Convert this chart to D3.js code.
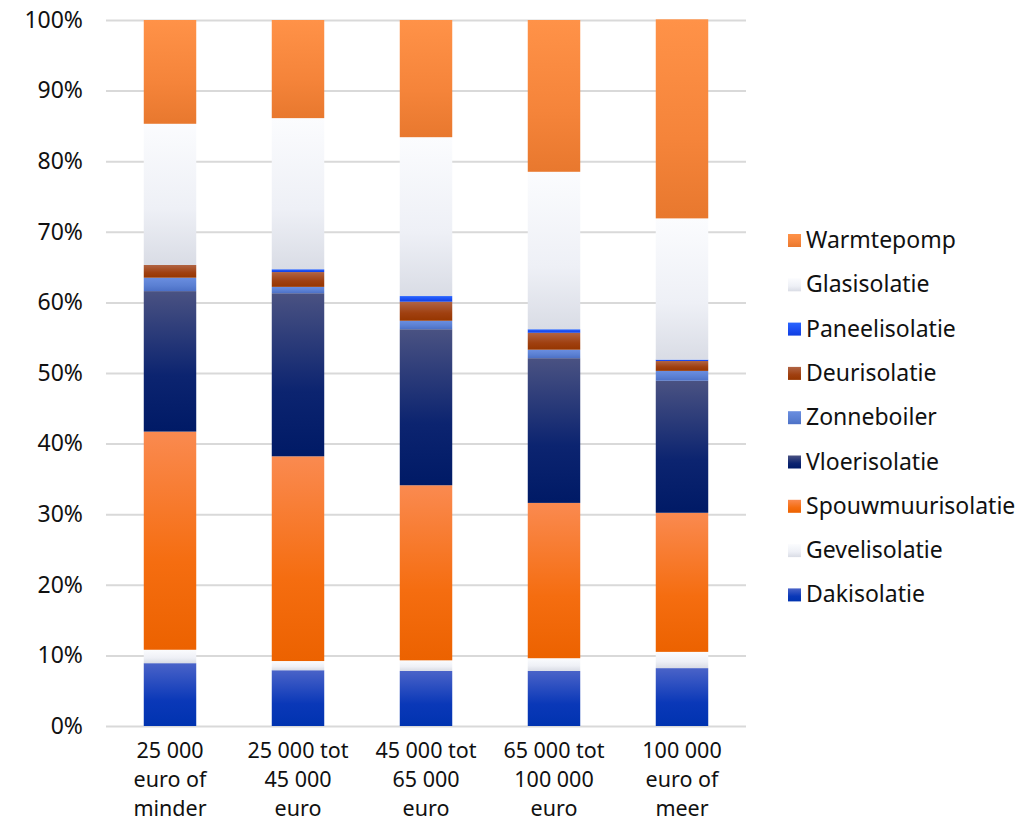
<!DOCTYPE html>
<html><head><meta charset="utf-8">
<script src="https://cdn.jsdelivr.net/npm/d3@7"></script>
<style>body{margin:0;background:#fff;} svg{display:block;font-family:"Noto Sans",sans-serif;}</style>
</head><body>
<svg id="c" width="1036" height="823"></svg>
<script>
const categories = [["25 000","euro of","minder"],["25 000 tot","45 000","euro"],["45 000 tot","65 000","euro"],["65 000 tot","100 000","euro"],["100 000","euro of","meer"]];
const seriesNames = ["Dakisolatie","Gevelisolatie","Spouwmuurisolatie","Vloerisolatie","Zonneboiler","Deurisolatie","Paneelisolatie","Glasisolatie","Warmtepomp"];
const dakisolatie       = [8.9, 7.9, 7.8, 7.8, 8.2];
const gevelisolatie     = [1.9, 1.3, 1.5, 1.8, 2.3];
const spouwmuurisolatie = [30.9, 29.0, 24.8, 22.0, 19.7];
const vloerisolatie     = [19.9, 23.1, 22.1, 20.5, 18.7];
const zonneboiler       = [1.9, 0.9, 1.2, 1.2, 1.4];
const deurisolatie      = [1.8, 2.1, 2.7, 2.4, 1.4];
const paneelisolatie    = [0.0, 0.4, 0.8, 0.5, 0.2];
const glasisolatie      = [20.0, 21.4, 22.5, 22.3, 20.0];
const warmtepomp        = [14.7, 13.9, 16.6, 21.5, 28.2];
const yTicks = [0,10,20,30,40,50,60,70,80,90,100];

const values = [dakisolatie,gevelisolatie,spouwmuurisolatie,vloerisolatie,zonneboiler,deurisolatie,paneelisolatie,glasisolatie,warmtepomp];
const grads = [
  ["#4a63c8","#0a38b8","#0033b0"],
  ["#fbfcfe","#eef0f6","#d9dce5"],
  ["#fa8a50","#f56d10","#ec6200"],
  ["#4a5282","#0c2470","#001a66"],
  ["#6a8ee0","#5a7fd2","#4c70c6"],
  ["#b06444","#a04010","#963600"],
  ["#2a66ff","#1a4cf0","#0f3fe0"],
  ["#fbfcfe","#eef0f6","#d9dce5"],
  ["#ff9248","#f5843a","#e8782e"]
];

const svg = d3.select("#c");
const margin = {left:106, right:290, top:20, bottom:97};
const W = 1036, H = 823;
const x = d3.scaleBand().domain(d3.range(categories.length)).range([margin.left, W - margin.right]).paddingInner(0.59).paddingOuter(0.295);
const y = d3.scaleLinear().domain([0,100]).range([H - margin.bottom, margin.top]);

const defs = svg.append("defs");
grads.forEach((g,i)=>{
  const lg = defs.append("linearGradient").attr("id","g"+i).attr("x1",0).attr("y1",0).attr("x2",0).attr("y2",1);
  lg.append("stop").attr("offset","0%").attr("stop-color",g[0]);
  lg.append("stop").attr("offset","60%").attr("stop-color",g[1]);
  lg.append("stop").attr("offset","100%").attr("stop-color",g[2]);
});

// grid
const yAxis = d3.axisLeft(y).tickValues(yTicks).tickFormat(d=>d+"%").tickSize(-(W-margin.right-margin.left)).tickPadding(23);
const ga = svg.append("g").attr("transform",`translate(${margin.left},0)`).call(yAxis);
ga.select(".domain").remove();
ga.selectAll(".tick line").attr("stroke","#d9d9d9").attr("stroke-width",2);
ga.selectAll(".tick text").attr("font-size",23).attr("fill","#111").attr("font-family","Noto Sans");

// stack
const table = categories.map((c,i)=>{ const o={i}; seriesNames.forEach((s,j)=>o[s]=values[j][i]); return o; });
const stacked = d3.stack().keys(seriesNames)(table);
svg.append("g").selectAll("g").data(stacked).join("g")
  .attr("fill",(d,j)=>`url(#g${j})`)
  .selectAll("rect").data(d=>d).join("rect")
  .attr("x",d=>x(d.data.i)).attr("width",x.bandwidth())
  .attr("y",d=>y(d[1])).attr("height",d=>Math.max(0,y(d[0])-y(d[1])));

// x labels
const xl = svg.append("g");
const lineY = [758, 787, 816];
categories.forEach((lines,i)=>{
  lines.forEach((l,k)=>xl.append("text").attr("text-anchor","middle").attr("font-size",21.5).attr("fill","#111")
    .attr("x",x(i)+x.bandwidth()/2).attr("y",lineY[k]).text(l));
});

// legend
const legendOrder = seriesNames.map((s,j)=>j).reverse();
const lg = svg.append("g");
legendOrder.forEach((j,k)=>{
  const yy = 240 + k*44.3;
  lg.append("rect").attr("x",788).attr("y",yy-6).attr("width",13).attr("height",13).attr("fill",`url(#g${j})`);
  lg.append("text").attr("x",806).attr("y",yy+8).attr("font-size",23).attr("fill","#111").text(seriesNames[j]);
});
</script>
</body></html>
